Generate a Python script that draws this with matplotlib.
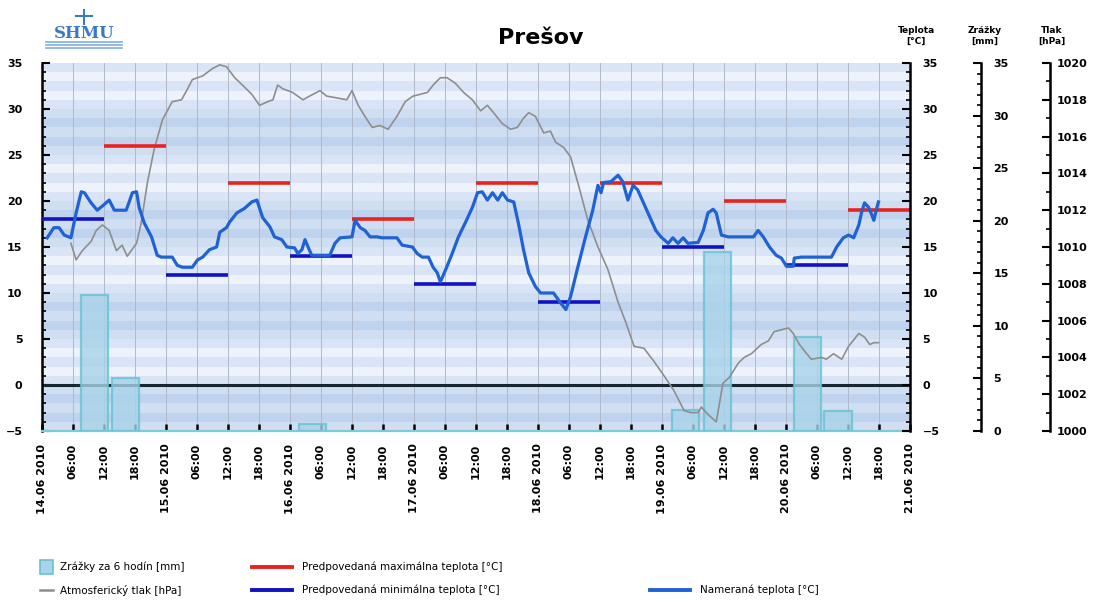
import matplotlib

matplotlib.use("Agg")

import matplotlib.pyplot as plt
from matplotlib.lines import Line2D
from matplotlib.patches import Rectangle

# time axis: hours since 14.06.2010 00:00
day_labels = ["14.06 2010", "15.06 2010", "16.06 2010", "17.06 2010",
              "18.06 2010", "19.06 2010", "20.06 2010", "21.06 2010"]
hour_labels = ["06:00", "12:00", "18:00"]

# measured temperature [°C]
meas_hours = [1.0, 2.3, 3.3, 4.3, 5.6, 6.6, 7.6, 8.2, 9.5, 10.7, 12.0, 13.0,
              14.0, 16.3, 17.5, 18.3, 18.8, 19.8, 21.2, 22.3, 23.1, 25.2,
              26.2, 27.2, 29.1, 30.1, 31.1, 32.4, 33.8, 34.4, 35.7, 36.3,
              37.7, 39.2, 40.6, 41.6, 42.7, 44.1, 45.0, 46.4, 47.4, 48.9,
              49.5, 50.3, 50.9, 51.5, 52.2, 55.7, 56.7, 57.7, 60.0, 60.6,
              61.6, 62.5, 63.5, 64.9, 65.8, 68.7, 69.7, 71.7, 72.6, 73.6,
              74.8, 75.7, 76.5, 77.1, 78.1, 79.4, 80.6, 81.9, 83.3, 84.3,
              85.2, 86.2, 87.2, 88.2, 89.1, 90.1, 91.3, 92.2, 93.2, 94.2,
              95.5, 96.5, 99.0, 100.4, 101.4, 102.3, 103.7, 105.2, 106.6,
              107.6, 108.2, 108.7, 110.1, 111.5, 112.4, 113.4, 114.4, 115.3,
              117.3, 118.8, 119.8, 121.2, 122.1, 123.1, 124.1, 125.0, 127.0,
              128.0, 128.9, 129.9, 130.5, 131.5, 132.8, 137.7, 138.6, 139.6,
              140.8, 142.1, 143.1, 144.1, 145.4, 145.6, 147.0, 152.8, 153.8,
              155.1, 156.1, 157.1, 158.1, 158.6, 159.2, 160.0, 160.6, 161.0,
              161.6, 161.9]
meas_temp = [16.0, 17.1, 17.1, 16.3, 16.0, 18.7, 21.0, 20.9, 19.8, 19.0, 19.6,
             20.1, 19.0, 19.0, 20.9, 21.0, 19.3, 17.6, 16.1, 14.1, 13.9, 13.9,
             13.0, 12.8, 12.8, 13.6, 13.9, 14.7, 15.0, 16.6, 17.1, 17.7, 18.7,
             19.2, 19.9, 20.1, 18.2, 17.2, 16.1, 15.8, 15.0, 14.9, 14.3, 14.7,
             15.8, 15.0, 14.1, 14.1, 15.4, 16.0, 16.1, 17.9, 17.1, 16.8, 16.1,
             16.1, 16.0, 16.0, 15.2, 15.0, 14.3, 13.9, 13.9, 12.8, 12.2, 11.2,
             12.5, 14.3, 16.1, 17.6, 19.3, 20.9, 21.0, 20.1, 20.9, 20.1, 20.9,
             20.1, 19.9, 17.6, 14.7, 12.2, 10.7, 10.0, 10.0, 8.9, 8.2, 9.6,
             12.8, 16.1, 19.0, 21.7, 20.9, 22.0, 22.1, 22.8, 22.1, 20.1, 21.7,
             21.2, 18.7, 16.8, 16.1, 15.4, 16.0, 15.4, 16.0, 15.4, 15.5, 16.8,
             18.7, 19.1, 18.7, 16.3, 16.1, 16.1, 16.8, 16.1, 15.0, 14.1, 13.8,
             12.9, 12.9, 13.8, 13.9, 13.9, 15.0, 16.0, 16.3, 16.0, 17.4, 18.7,
             19.8, 19.3, 18.5, 17.9, 19.3, 19.9]

# atmospheric pressure [hPa]
press_hours = [5.6, 6.6, 7.8, 9.5, 10.5, 11.7, 13.0, 14.4, 15.5, 16.5, 18.3,
               19.2, 20.4, 21.7, 23.3, 25.2, 27.0, 28.0, 29.1, 31.1, 33.0,
               34.4, 35.7, 37.3, 38.8, 40.6, 42.1, 43.7, 44.7, 45.6, 46.6,
               48.5, 50.5, 51.8, 53.8, 55.1, 57.1, 59.0, 60.0, 61.2, 62.5,
               63.9, 65.4, 67.0, 68.7, 70.3, 71.8, 73.2, 74.6, 75.7, 77.1,
               78.4, 80.0, 81.6, 83.3, 84.9, 86.2, 87.4, 89.1, 90.7, 92.0,
               93.2, 94.2, 95.5, 97.1, 98.4, 99.4, 101.0, 102.3, 103.9, 105.6,
               107.6, 109.5, 111.5, 113.0, 114.6, 116.5, 118.4, 120.4, 122.3,
               124.3, 125.6, 127.0, 127.6, 128.9, 130.5, 131.8, 133.0, 134.8,
               135.9, 137.3, 139.2, 140.6, 141.7, 143.1, 144.5, 145.4, 146.6,
               148.0, 148.9, 150.9, 151.8, 153.2, 154.8, 156.1, 158.1, 159.2,
               160.2, 161.0, 161.9]
press_hpa = [1010.2, 1009.3, 1009.8, 1010.3, 1010.9, 1011.2, 1010.9, 1009.8,
             1010.1, 1009.5, 1010.2, 1011.3, 1013.5, 1015.3, 1016.9, 1017.9,
             1018.0, 1018.5, 1019.1, 1019.3, 1019.7, 1019.9, 1019.8, 1019.2,
             1018.8, 1018.3, 1017.7, 1017.9, 1018.0, 1018.8, 1018.6, 1018.4,
             1018.0, 1018.2, 1018.5, 1018.2, 1018.1, 1018.0, 1018.5, 1017.7,
             1017.1, 1016.5, 1016.6, 1016.4, 1017.1, 1017.9, 1018.2, 1018.3,
             1018.4, 1018.8, 1019.2, 1019.2, 1018.9, 1018.4, 1018.0, 1017.4,
             1017.7, 1017.3, 1016.7, 1016.4, 1016.5, 1017.0, 1017.3, 1017.1,
             1016.2, 1016.3, 1015.7, 1015.4, 1014.9, 1013.3, 1011.5, 1010.0,
             1008.8, 1007.0, 1005.9, 1004.6, 1004.5, 1003.8, 1003.0, 1002.2,
             1001.1, 1001.0, 1001.0, 1001.3, 1000.9, 1000.5, 1002.6, 1002.9,
             1003.7, 1004.0, 1004.2, 1004.7, 1004.9, 1005.4, 1005.5, 1005.6,
             1005.3, 1004.7, 1004.2, 1003.9, 1004.0, 1003.9, 1004.2, 1003.9,
             1004.6, 1005.3, 1005.1, 1004.7, 1004.8, 1004.8]

# 6-hour precipitation [mm]
rain_hours = [10.2, 16.2, 52.4, 124.6, 130.7, 148.2, 154.1]
rain_mm = [12.9, 5.0, 0.7, 2.0, 17.0, 8.9, 1.9]

# forecast extremes, each valid for 12 hours from the start hour
max_start = [12, 36, 60, 84, 108, 132, 156]
max_temp = [26, 22, 18, 22, 22, 20, 19]
min_start = [0, 24, 48, 72, 96, 120, 144]
min_temp = [18, 12, 14, 11, 9, 15, 13]

W, H = 1094, 602
C_MEAS = "#1f62d4"
C_MIN = "#1212c4"
C_MAX = "#e8231f"
C_PRESS = "#8e8e8e"
C_RAIN_FACE = "#a8d3ea"
C_RAIN_EDGE = "#66c2d2"


def fx(px):
    return px / W


def fy(py):
    return 1 - py / H


fig = plt.figure(figsize=(W / 100, H / 100), dpi=100)
fig.patch.set_facecolor("white")
rect = [fx(42), fy(431), fx(910 - 42), (431 - 63) / H]

ax = fig.add_axes(rect)
ax.set_xlim(0, 168)
ax.set_ylim(-5, 35)

# background bands
for k in range(-5, 35):
    dark_block = ((k + 5) // 5) % 2 == 0
    if dark_block:
        colour = "#c0d3ee" if k % 2 == 0 else "#d0def2"
    else:
        colour = "#d9e5f6" if k % 2 == 0 else "#eef3fb"
    ax.axhspan(k, k + 1, color=colour, lw=0, zorder=0)

six_hours = list(range(0, 169, 6))
tick_texts = []
for h in six_hours:
    if h % 24 == 0:
        tick_texts.append(day_labels[h // 24])
    else:
        tick_texts.append(hour_labels[(h % 24) // 6 - 1])
ax.set_xticks(six_hours)
ax.set_xticklabels(tick_texts, rotation=90, fontsize=8, fontweight="bold",
                   va="top", ha="center")
ax.grid(axis="x", color="#aebacb", lw=0.7, zorder=1)
ax.tick_params(axis="x", direction="in", length=5, width=1.8, pad=9,
               color="black")
ax.axhline(0, color="#18262e", lw=2.2, zorder=2)

ax.set_yticks(range(-5, 36, 5))
ax.set_yticks(range(-5, 36), minor=True)
ax.tick_params(axis="y", which="major", direction="in", length=6, width=1.5,
               pad=14, labelsize=8)
ax.tick_params(axis="y", which="minor", direction="in", length=3, width=1.2)
for lab in ax.get_yticklabels():
    lab.set_fontweight("bold")
for side in ("top", "right"):
    ax.spines[side].set_visible(False)
ax.spines["left"].set_linewidth(1.8)
ax.spines["bottom"].set_color("#7ccbd6")
ax.spines["bottom"].set_linewidth(1.6)

# precipitation axis
ax_rain = ax.twinx()
ax_rain.set_zorder(1)
ax_rain.set_ylim(0, 35)
ax_rain.bar(rain_hours, rain_mm, width=5.3, color=C_RAIN_FACE, alpha=0.8,
            edgecolor=C_RAIN_EDGE, linewidth=1.6)
ax_rain.spines["right"].set_position(("axes", (981 - 42) / 868))

# pressure axis
ax_press = ax.twinx()
ax_press.set_zorder(2)
ax_press.set_ylim(1000, 1020)
ax_press.plot(press_hours, press_hpa, color=C_PRESS, lw=1.2)
ax_press.spines["right"].set_position(("axes", (1050 - 42) / 868))

# temperature lines on top
ax_temp = ax.twinx()
ax_temp.set_zorder(3)
ax_temp.set_ylim(-5, 35)
ax_temp.hlines(max_temp, max_start, [s + 12 for s in max_start],
               color=C_MAX, lw=2.6)
ax_temp.hlines(min_temp, min_start, [s + 12 for s in min_start],
               color=C_MIN, lw=2.6)
ax_temp.plot(meas_hours, meas_temp, color=C_MEAS, lw=2.3,
             solid_joinstyle="round")

for a, major, minor, pad in ((ax_temp, range(-5, 36, 5), range(-5, 36), 9),
                             (ax_rain, range(0, 36, 5), range(0, 36), 9),
                             (ax_press, range(1000, 1021, 2),
                              range(1000, 1021), 5)):
    for side in ("top", "left", "bottom"):
        a.spines[side].set_visible(False)
    a.spines["right"].set_linewidth(1.8)
    a.set_yticks(list(major))
    a.set_yticks(list(minor), minor=True)
    a.tick_params(axis="y", which="major", direction="in", length=6,
                  width=1.5, pad=pad, labelsize=8)
    a.tick_params(axis="y", which="minor", direction="in", length=3,
                  width=1.2)
    for lab in a.get_yticklabels():
        lab.set_fontweight("bold")

# title and headers
fig.text(fx(541), fy(38), "Prešov", ha="center", va="center", fontsize=16,
         fontweight="bold")
for px, txt in ((916, "Teplota\n[°C]"), (985, "Zrážky\n[mm]"),
                (1052, "Tlak\n[hPa]")):
    fig.text(fx(px), fy(36), txt, ha="center", va="center", fontsize=6.5,
             fontweight="bold", linespacing=1.2)

# logo
fig.text(fx(84), fy(33), "SHMU", ha="center", va="center", fontsize=12,
         fontweight="bold", family="DejaVu Serif", color="#3b79c6")
for py in (42, 45, 48):
    fig.add_artist(Line2D([fx(46), fx(122)], [fy(py), fy(py)],
                          color="#7fb0e0", lw=1.2))
fig.add_artist(Line2D([fx(84), fx(84)], [fy(10), fy(24)], color="#3b79c6",
                      lw=1.5))
fig.add_artist(Line2D([fx(76), fx(92)], [fy(16), fy(16)], color="#3b79c6",
                      lw=1.5))

# legend
fs = 7.5
fig.add_artist(Rectangle((fx(40), fy(574)), fx(13), 14 / H,
                         facecolor=C_RAIN_FACE, edgecolor=C_RAIN_EDGE, lw=1.2))
fig.text(fx(60), fy(567), "Zrážky za 6 hodín [mm]", va="center", fontsize=fs)
fig.add_artist(Line2D([fx(40), fx(53)], [fy(590), fy(590)], color=C_PRESS,
                      lw=1.8))
fig.text(fx(60), fy(590), "Atmosferický tlak [hPa]", va="center",
         fontsize=fs)
entries = ((252, 567, C_MAX, "Predpovedaná maximálna teplota [°C]"),
           (252, 590, C_MIN, "Predpovedaná minimálna teplota [°C]"),
           (650, 590, C_MEAS, "Nameraná teplota [°C]"))
for px, py, colour, txt in entries:
    fig.add_artist(Line2D([fx(px), fx(px + 40)], [fy(py), fy(py)],
                          color=colour, lw=2.8))
    fig.text(fx(px + 50), fy(py), txt, va="center", fontsize=fs)

fig.savefig("out.png", dpi=100)
